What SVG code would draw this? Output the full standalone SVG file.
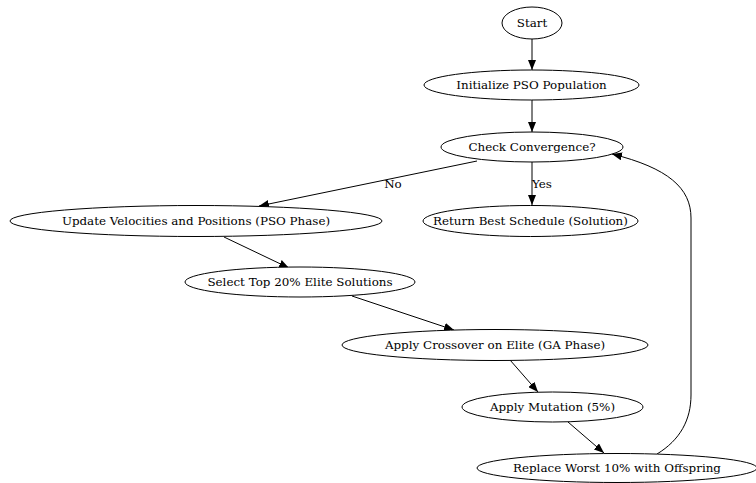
<svg xmlns="http://www.w3.org/2000/svg" width="756" height="483" viewBox="0 0 756 483">
<style>
.n ellipse{fill:#fff;stroke:#000;stroke-width:1}
text{font-family:"DejaVu Serif",serif;font-size:11.9px;fill:#000;text-anchor:middle}
.e path{fill:none;stroke:#000;stroke-width:1}
</style>
<defs>
<marker id="ah" markerUnits="userSpaceOnUse" markerWidth="10" markerHeight="8" refX="10" refY="4" orient="auto">
<path d="M0,0 L10,4 L0,8 Z" fill="#000"/>
</marker>
</defs>
<rect width="756" height="483" fill="#fff"/>
<g class="e" id="edges">
<path d="M532,39 L532,70" marker-end="url(#ah)"/>
<path d="M532,100 L532,132" marker-end="url(#ah)"/>
<path d="M477,161 L259,206" marker-end="url(#ah)"/>
<path d="M532,162 L532,205" marker-end="url(#ah)"/>
<path d="M224,237 L289,268" marker-end="url(#ah)"/>
<path d="M352,296 L454,330" marker-end="url(#ah)"/>
<path d="M510,360 L538,392" marker-end="url(#ah)"/>
<path d="M568,422 L604,453" marker-end="url(#ah)"/>
<path d="M657,454 C680,440 691,420 691,395 L691,218 C691,188 668,168 612,154" marker-end="url(#ah)"/>
<text x="393" y="188">No</text>
<text x="542" y="188">Yes</text>
</g>
<g class="n" id="start"><ellipse cx="532" cy="23" rx="30" ry="16"/><text x="532" y="27">Start</text></g>
<g class="n" id="init"><ellipse cx="531.5" cy="85" rx="107.5" ry="15"/><text x="531.5" y="89">Initialize PSO Population</text></g>
<g class="n" id="check"><ellipse cx="532" cy="147" rx="91" ry="15"/><text x="532" y="151">Check Convergence?</text></g>
<g class="n" id="update"><ellipse cx="196" cy="221" rx="186" ry="15.5"/><text x="196" y="225">Update Velocities and Positions (PSO Phase)</text></g>
<g class="n" id="return"><ellipse cx="530.5" cy="221" rx="107.5" ry="15.5"/><text x="530.5" y="225">Return Best Schedule (Solution)</text></g>
<g class="n" id="select"><ellipse cx="300" cy="282" rx="115" ry="15"/><text x="300" y="286">Select Top 20% Elite Solutions</text></g>
<g class="n" id="crossover"><ellipse cx="495" cy="345" rx="153" ry="15.5"/><text x="495" y="349">Apply Crossover on Elite (GA Phase)</text></g>
<g class="n" id="mutation"><ellipse cx="552.5" cy="407" rx="90.5" ry="15"/><text x="552.5" y="411">Apply Mutation (5%)</text></g>
<g class="n" id="replace"><ellipse cx="617" cy="468" rx="140" ry="14.5"/><text x="617" y="472">Replace Worst 10% with Offspring</text></g>
</svg>
